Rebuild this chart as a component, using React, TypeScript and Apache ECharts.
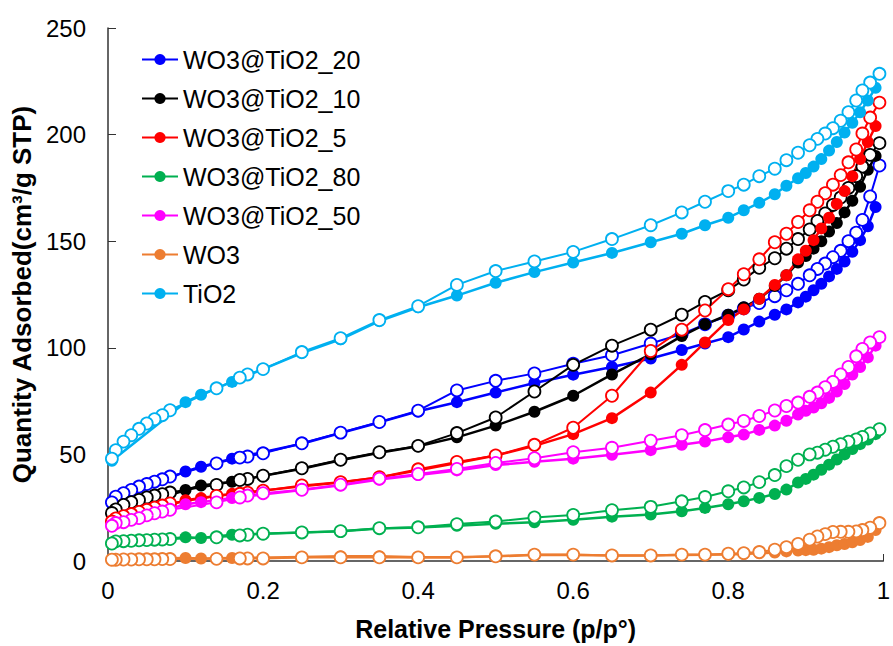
import React, { useEffect, useRef } from "react";
import * as echarts from "echarts";

// Relative pressure points (p/p°) for adsorption (filled) and desorption (open) branches
const ADS_X = [0.005, 0.1, 0.12, 0.16, 0.25, 0.3, 0.35, 0.4, 0.45, 0.5, 0.55, 0.6, 0.65, 0.7, 0.74, 0.77, 0.8, 0.82, 0.84, 0.86, 0.875, 0.89, 0.9, 0.91, 0.92, 0.93, 0.94, 0.95, 0.96, 0.97, 0.98, 0.99];
const DES_X = [0.995, 0.983, 0.973, 0.965, 0.955, 0.945, 0.935, 0.925, 0.915, 0.905, 0.89, 0.875, 0.86, 0.84, 0.82, 0.8, 0.77, 0.74, 0.7, 0.65, 0.6, 0.55, 0.5, 0.45, 0.4, 0.35, 0.3, 0.25, 0.2, 0.18, 0.17, 0.14, 0.08, 0.07, 0.06, 0.05, 0.04, 0.03, 0.02, 0.01, 0.005];

const WT20_ADS = [27, 42, 44.2, 48, 55, 60, 65, 70.2, 74.5, 79, 83.5, 87.4, 91, 95, 99, 102, 105, 108.6, 112.3, 115.5, 118, 121.3, 124, 127, 130, 133.5, 137, 140.5, 145, 150.5, 157, 166];
const WT20_DES = [185.5, 171, 160, 154, 150, 145.5, 142.5, 139.5, 137, 134, 130, 127, 124.2, 121, 118.5, 115, 111, 106.5, 102, 96.5, 92.5, 88, 84.5, 80, 70.5, 65.2, 60.2, 55.2, 50.5, 49, 48.5, 45.8, 39.6, 38.3, 37.2, 36.1, 34.9, 33.3, 31.8, 30.2, 27.5];

const WT10_ADS = [22, 33.3, 35.4, 37.2, 43.3, 47.3, 50.8, 53.8, 58, 63.5, 70, 77.5, 87.5, 97, 105.5, 111, 115.5, 119, 123, 129, 134, 140, 143, 146.5, 150, 154.5, 158.5, 163.5, 169, 175.5, 183.5, 190];
const WT10_DES = [196, 190.5, 185, 180.5, 175, 170.5, 167, 163, 159.5, 155.5, 151, 146.5, 142, 137.5, 132, 127, 121.5, 115.5, 108.5, 101, 92, 79.5, 67.3, 60, 54, 51, 47.5, 43.5, 40, 38.5, 38, 35.7, 32.1, 31.3, 30.7, 29.8, 28.6, 27.6, 26.3, 24.2, 22.5];

const WT5_ADS = [18, 28.5, 29.5, 31.5, 35, 36.8, 39.2, 42.5, 46, 49.5, 54, 59.5, 67, 79, 92, 102.5, 113, 118, 123, 129.5, 134, 141.5, 145.5, 150.5, 156, 161, 167.5, 173.5, 180.5, 188.5, 196.5, 204];
const WT5_DES = [215, 208, 200.5, 193, 187, 181, 176.5, 172.5, 168.5, 164.5, 159, 153.5, 149.5, 141.5, 134.5, 127.5, 117.5, 108.5, 98.5, 77.5, 62.5, 54.5, 49.5, 46.5, 43, 39.3, 37, 35.4, 33, 32, 31.5, 30.5, 27, 26, 25, 24, 23, 22, 21, 20, 18.5];

const WT80_ADS = [8, 11.1, 10.8, 12.3, 13.4, 13.9, 15.2, 15.7, 16.5, 17.5, 18.2, 19.3, 20.8, 21.8, 23.3, 24.9, 26.6, 28, 29.6, 31.4, 33.5, 36.8, 38.5, 40.5, 42.8, 45.2, 47.6, 50, 52.5, 54.8, 57, 59.5];
const WT80_DES = [61.8, 59.8, 58.2, 57, 56, 54.8, 53.6, 52.2, 50.8, 50, 47.5, 44.5, 40.3, 37, 34.5, 32.7, 30, 28, 25.4, 23.8, 21.6, 20.4, 18.5, 17.3, 15.8, 15.4, 14, 13.4, 12.8, 12.3, 12, 11.1, 10.3, 10.1, 10, 9.8, 9.7, 9.5, 9.3, 9.2, 8.2];

const WT50_ADS = [16.7, 26.6, 27.6, 29.5, 33.3, 35.5, 38.2, 40.3, 42.5, 45, 46.5, 48, 49.8, 52, 54.5, 56, 58, 59.3, 61.5, 63.5, 65.8, 68.7, 70.5, 72, 74, 76.5, 79.5, 83, 87.5, 91, 95.5, 101];
const WT50_DES = [105, 102.5, 99.5, 96, 91, 87.5, 84, 81.5, 79, 77, 74.3, 72.7, 70.6, 68, 65.7, 64, 61.4, 59, 56.4, 53.1, 51, 48.2, 46, 43.2, 40.8, 38.6, 35.8, 33.4, 31.8, 30.7, 29.8, 27.5, 24, 23.2, 22.4, 21.4, 20.1, 19.3, 18.2, 17.8, 16.5];

const WO3_ADS = [0.8, 1.4, 1.2, 1.4, 1.9, 2.2, 2.2, 1.8, 1.8, 2.2, 2.8, 2.8, 2.6, 2.6, 2.8, 2.9, 3.1, 3.3, 3.6, 4, 4.5, 4.9, 5.1, 5.3, 5.8, 6.5, 7.4, 8, 8.8, 9.8, 11.3, 14.5];
const WO3_DES = [17.8, 15.6, 14.5, 13.9, 13.7, 13.7, 13.6, 12.6, 11.5, 10, 8, 6.5, 5.3, 4.2, 3.7, 3.4, 3, 3, 2.6, 2.6, 3, 3, 2.2, 1.7, 1.7, 1.7, 1.7, 1.7, 1.2, 1.2, 1.2, 1, 0.9, 0.9, 0.8, 0.8, 0.8, 0.7, 0.7, 0.6, 0.6];

const TIO2_ADS = [47, 74.5, 78, 84, 97.5, 104, 112.5, 119, 124.5, 130.5, 135.5, 140, 144.5, 149.5, 153.5, 157.5, 161, 164.5, 168, 172, 176, 179.5, 182, 185, 188.5, 192.5, 196.5, 201, 205.5, 210.5, 216, 222];
const TIO2_DES = [228.5, 224.4, 220.7, 216, 210.5, 206.5, 203, 200.5, 198, 195, 191.5, 188, 184, 180.5, 176.5, 173.5, 168.5, 163.5, 157.5, 151, 145, 140.5, 136, 129.5, 119.5, 113, 104.5, 98, 90, 87.5, 86, 81, 70.7, 68.4, 66.5, 64.5, 62, 59, 56, 52, 48];

const SAMPLES = ["WO3@TiO2_20", "WO3@TiO2_10", "WO3@TiO2_5", "WO3@TiO2_80", "WO3@TiO2_50", "WO3", "TiO2"];
const COLORS = ["#0000FF", "#000000", "#FF0000", "#00B050", "#FF00FF", "#ED7D31", "#00B0F0"];
const ADS = [WT20_ADS, WT10_ADS, WT5_ADS, WT80_ADS, WT50_ADS, WO3_ADS, TIO2_ADS];
const DES = [WT20_DES, WT10_DES, WT5_DES, WT80_DES, WT50_DES, WO3_DES, TIO2_DES];

const FONT = "'Liberation Sans', Arial, sans-serif";

export default function App() {
  const ref = useRef<HTMLDivElement>(null);
  useEffect(() => {
    if (!ref.current) return;
    const chart = echarts.init(ref.current, undefined, { renderer: "svg" });
    const series: any[] = [];
    SAMPLES.forEach((name, k) => {
      const color = COLORS[k];
      series.push({
        name,
        type: "line",
        data: ADS_X.map((x, i) => [x, ADS[k][i]]),
        symbol: "circle",
        symbolSize: 12,
        showSymbol: true,
        itemStyle: { color },
        lineStyle: { color, width: 2.5 },
      });
      series.push({
        name: name + " (desorption)",
        type: "line",
        data: DES_X.map((x, i) => [x, DES[k][i]]),
        symbol: "circle",
        symbolSize: 12,
        showSymbol: true,
        itemStyle: { color: "#FFFFFF", borderColor: color, borderWidth: 1.8 },
        lineStyle: { color, width: 2 },
      });
    });
    chart.setOption({
      animation: false,
      backgroundColor: "#FFFFFF",
      textStyle: { fontFamily: FONT, color: "#000" },
      grid: { left: 108, right: 8, top: 28, bottom: 83, containLabel: false },
      legend: {
        data: SAMPLES,
        orient: "vertical",
        left: 136,
        top: 42,
        itemWidth: 36,
        itemHeight: 14,
        itemGap: 14,
        textStyle: { fontSize: 25, fontFamily: FONT, color: "#000" },
      },
      xAxis: {
        type: "value",
        min: 0,
        max: 1,
        interval: 0.2,
        name: "Relative Pressure (p/p°)",
        nameLocation: "middle",
        nameGap: 55,
        nameTextStyle: { fontSize: 25, fontWeight: "bold", fontFamily: FONT, color: "#000" },
        axisLine: { show: true, lineStyle: { color: "#333", width: 1.5 } },
        axisTick: { show: true, inside: true, length: 7, lineStyle: { color: "#333" } },
        axisLabel: {
          fontSize: 24,
          margin: 17,
          color: "#000",
          fontFamily: FONT,
          formatter: (v: number) => String(Math.round(v * 10) / 10),
        },
        splitLine: { show: false },
      },
      yAxis: {
        type: "value",
        min: 0,
        max: 250,
        interval: 50,
        name: "Quantity Adsorbed(cm³/g STP)",
        nameLocation: "middle",
        nameGap: 68,
        nameTextStyle: { fontSize: 26, fontWeight: "bold", fontFamily: FONT, color: "#000" },
        axisLine: { show: true, lineStyle: { color: "#333", width: 1.5 } },
        axisTick: { show: true, inside: true, length: 8, lineStyle: { color: "#333" } },
        axisLabel: { fontSize: 24, margin: 22, color: "#000", fontFamily: FONT },
        splitLine: { show: false },
      },
      series,
    });
    return () => chart.dispose();
  }, []);
  return (
    <div
      ref={ref}
      style={{ position: "absolute", left: 0, top: 0, width: 893, height: 646 }}
    />
  );
}
